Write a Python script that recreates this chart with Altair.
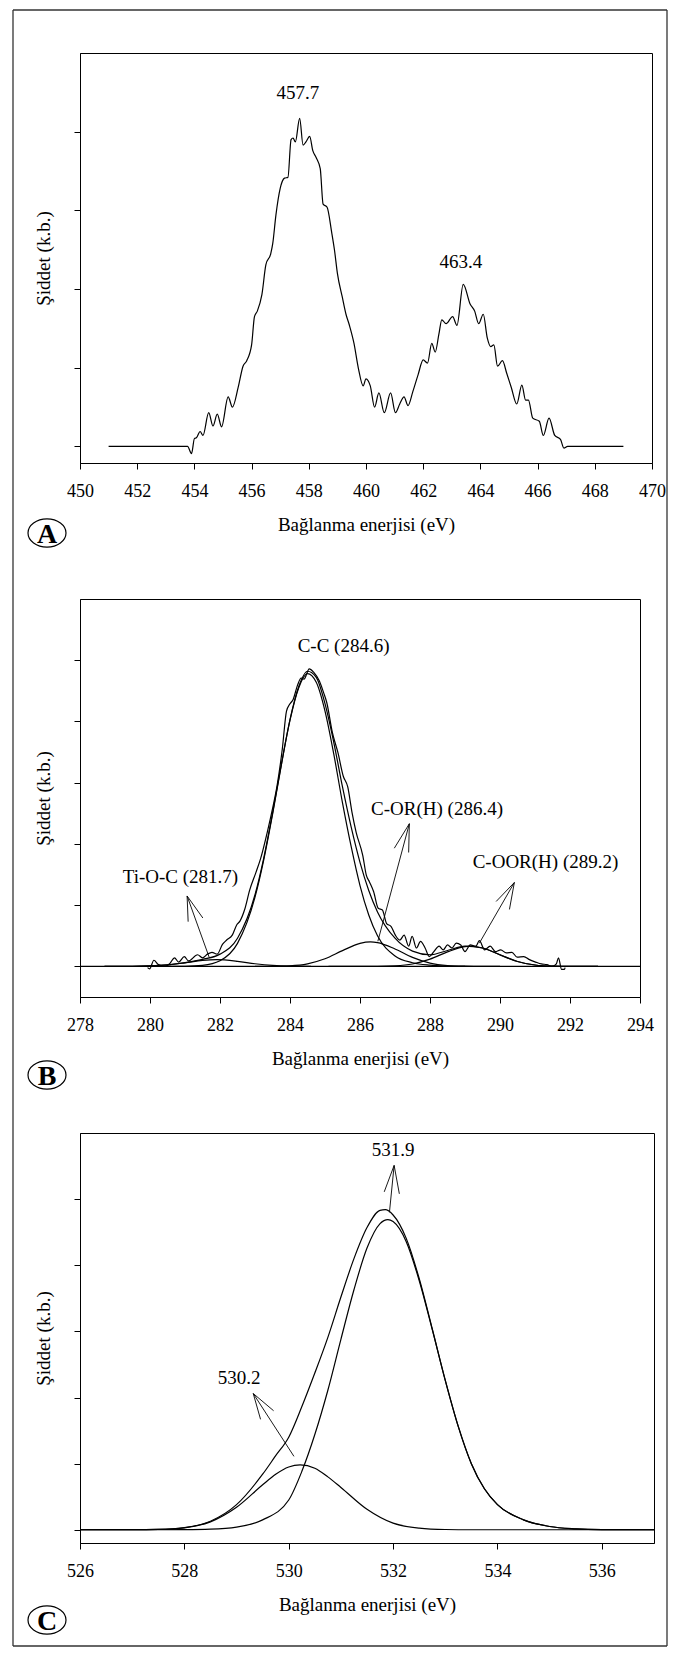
import altair as alt
import pandas as pd

FONT = "'Liberation Serif', 'Times New Roman', Times, 'DejaVu Serif', serif"
X_TITLE = "Bağlanma enerjisi (eV)"
Y_TITLE = "Şiddet (k.b.)"
FRAME_COLOR = "#333333"
ELLIPSE = "M-1,0A1,0.74,0,1,1,1,0A1,0.74,0,1,1,-1,0Z"

# ---------------- Panel A (Ti 2p) ----------------
a_energy = [451.0, 453.76, 453.9, 454.0, 454.07, 454.2, 454.3, 454.5, 454.65, 454.8,
            454.95, 455.18, 455.33, 455.53, 455.7, 455.83, 456.0, 456.1, 456.2, 456.36,
            456.5, 456.67, 456.74, 456.85, 457.0, 457.15, 457.27, 457.38, 457.45, 457.53,
            457.68, 457.8, 457.9, 458.03, 458.14, 458.26, 458.4, 458.5, 458.64, 458.8,
            458.9, 459.0, 459.17, 459.3, 459.42, 459.58, 459.73, 459.9, 460.0, 460.15,
            460.3, 460.45, 460.64, 460.86, 461.03, 461.18, 461.33, 461.47, 461.64, 461.82,
            462.0, 462.15, 462.3, 462.42, 462.55, 462.65, 462.8, 463.03, 463.18, 463.4,
            463.64, 463.8, 463.94, 464.1, 464.24, 464.36, 464.47, 464.6, 464.77, 464.92,
            465.08, 465.27, 465.45, 465.58, 465.68, 465.83, 466.06, 466.2, 466.4, 466.6,
            466.8, 466.92, 467.05, 469.0]
a_signal = [0, 0, -0.09, 0.1, 0.11, 0.19, 0.14, 0.43, 0.26, 0.41,
            0.25, 0.63, 0.5, 0.75, 1.02, 1.09, 1.29, 1.65, 1.72, 1.93,
            2.31, 2.45, 2.58, 2.94, 3.28, 3.41, 3.42, 3.9, 3.92, 3.87,
            4.17, 3.83, 3.87, 3.94, 3.76, 3.67, 3.53, 3.08, 3.04, 2.72,
            2.49, 2.2, 1.9, 1.68, 1.54, 1.31, 1.0, 0.77, 0.86, 0.77,
            0.5, 0.68, 0.43, 0.68, 0.43, 0.54, 0.63, 0.52, 0.7, 0.91,
            1.1, 1.06, 1.31, 1.2, 1.43, 1.61, 1.56, 1.65, 1.54, 2.06,
            1.81, 1.72, 1.56, 1.68, 1.38, 1.27, 1.29, 1.02, 1.09, 0.93,
            0.75, 0.54, 0.78, 0.59, 0.59, 0.36, 0.32, 0.14, 0.36, 0.14,
            0.09, -0.02, 0, 0]
a_x_domain = [450, 470]
a_x_ticks = [450, 452, 454, 456, 458, 460, 462, 464, 466, 468, 470]
a_y_domain = [-0.21, 5]
a_y_ticks = [0, 1, 2, 3, 4]
a_labels = ["457.7", "463.4"]
a_label_e = [457.62, 463.32]
a_label_v = [4.49, 2.34]

# ---------------- Panel B (C 1s) ----------------
b_raw_e = [279.93, 279.99, 280.11, 280.24, 280.42, 280.57, 280.7, 280.82, 280.98, 281.1,
           281.36, 281.5, 281.64, 281.77, 281.92, 282.07, 282.19, 282.35, 282.48, 282.57,
           282.7, 282.85, 283.03, 283.16, 283.35, 283.51, 283.63, 283.78, 283.9, 283.99,
           284.09, 284.22, 284.32, 284.4, 284.55, 284.68, 284.84, 284.96, 285.05, 285.21,
           285.37, 285.52, 285.65, 285.77, 285.89, 286.08, 286.18, 286.27, 286.39, 286.52,
           286.64, 286.76, 286.89, 287.01, 287.14, 287.26, 287.39, 287.49, 287.61, 287.73,
           287.86, 287.98, 288.11, 288.26, 288.38, 288.5, 288.63, 288.75, 288.88, 289.0,
           289.15, 289.31, 289.41, 289.56, 289.72, 289.87, 290.02, 290.18, 290.34, 290.49,
           290.68, 290.84, 291.02, 291.18, 291.34, 291.49, 291.61, 291.67, 291.76, 291.84,
           291.86]
b_raw_v = [-0.02, -0.04, 0.1, 0.03, 0, 0.05, 0.14, 0.07, 0.16, 0.09,
           0.19, 0.14, 0.2, 0.23, 0.2, 0.36, 0.43, 0.51, 0.68, 0.74,
           0.92, 1.25, 1.54, 1.76, 2.19, 2.6, 2.95, 3.55, 4.17, 4.28,
           4.36, 4.6, 4.71, 4.69, 4.86, 4.8, 4.66, 4.47, 4.31, 3.82,
           3.49, 3.11, 2.93, 2.52, 2.19, 1.81, 1.49, 1.38, 1.22, 0.95,
           0.92, 0.7, 0.65, 0.51, 0.43, 0.51, 0.33, 0.49, 0.3, 0.41,
           0.3, 0.16, 0.24, 0.33, 0.27, 0.35, 0.3, 0.38, 0.35, 0.24,
           0.35, 0.33, 0.42, 0.27, 0.33, 0.24, 0.27, 0.22, 0.23, 0.15,
           0.16, 0.11, 0.07, 0.04, 0.03, 0, 0.04, 0.14, -0.05, -0.05,
           -0.02]
b_env_e = [278.7, 279.5, 280, 280.5, 281, 281.5, 282, 282.5, 283, 283.25,
           283.5, 283.75, 284, 284.25, 284.5, 284.75, 285, 285.25, 285.5, 285.75,
           286, 286.25, 286.5, 287, 287.5, 288, 288.5, 289, 289.5, 290,
           290.5, 291, 291.5, 292, 292.8]
b_env_v = [0, 0.001, 0.007, 0.024, 0.06, 0.114, 0.20, 0.46, 1.17, 1.77,
           2.50, 3.29, 4.03, 4.57, 4.82, 4.72, 4.29, 3.66, 2.93, 2.27,
           1.70, 1.24, 0.89, 0.46, 0.25, 0.19, 0.26, 0.33, 0.30, 0.19,
           0.08, 0.023, 0.004, 0, 0]
b_cc_e = [280.5, 281, 281.5, 282, 282.5, 283, 283.25, 283.5, 283.75, 284,
          284.25, 284.5, 284.75, 285, 285.25, 285.5, 285.75, 286, 286.25, 286.5,
          287, 287.5, 288, 288.5, 289]
b_cc_v = [0, 0.002, 0.017, 0.092, 0.376, 1.13, 1.74, 2.48, 3.28, 4.02,
          4.55, 4.78, 4.64, 4.17, 3.47, 2.67, 1.95, 1.32, 0.84, 0.5,
          0.17, 0.06, 0.02, 0.005, 0]
b_cor_e = [283, 283.5, 284, 284.5, 285, 285.5, 286, 286.3, 286.5, 287,
           287.5, 288, 288.5, 289, 289.5, 290]
b_cor_v = [0, 0.002, 0.01, 0.042, 0.124, 0.257, 0.376, 0.40, 0.389, 0.285,
           0.148, 0.054, 0.014, 0.003, 0, 0]
b_coor_e = [285.1, 286.5, 287, 287.5, 288, 288.5, 289, 289.15, 289.5, 290,
            290.5, 291, 291.5, 292, 292.8]
b_coor_v = [0, 0.001, 0.009, 0.039, 0.118, 0.237, 0.324, 0.33, 0.30, 0.188,
            0.079, 0.023, 0.004, 0, 0]
b_tioc_e = [278.7, 279.5, 280, 280.5, 281, 281.5, 281.9, 282.5, 283, 283.5, 284, 284.6]
b_tioc_v = [0, 0.001, 0.007, 0.024, 0.058, 0.097, 0.11, 0.083, 0.043, 0.015, 0.003, 0]
b_x_domain = [278, 294]
b_x_ticks = [278, 280, 282, 284, 286, 288, 290, 292, 294]
b_y_domain = [-0.5, 6]
b_y_ticks = [0, 1, 2, 3, 4, 5]
b_labels = ["C-C (284.6)", "Ti-O-C (281.7)", "C-OR(H) (286.4)", "C-OOR(H) (289.2)"]
b_label_e = [285.53, 280.87, 288.20, 291.30]
b_label_v = [5.24, 1.46, 2.57, 1.70]
# arrow segments: start (e, v) -> end (e2, v2)
b_arrow_e = [281.69, 281.06, 281.06, 286.51, 287.41, 287.41, 289.41, 290.41, 290.41]
b_arrow_v = [0.15, 1.15, 1.15, 0.41, 2.33, 2.33, 0.38, 1.37, 1.37]
b_arrow_e2 = [281.06, 281.09, 281.51, 287.41, 286.98, 287.39, 290.41, 289.89, 290.27]
b_arrow_v2 = [1.15, 0.73, 0.79, 2.33, 1.93, 1.86, 1.37, 1.06, 0.93]

# ---------------- Panel C (O 1s) ----------------
c_env_e = [526, 527, 527.5, 528, 528.5, 529, 529.5, 529.75, 530, 530.25,
           530.5, 530.75, 531, 531.25, 531.5, 531.75, 531.85, 532, 532.25, 532.5,
           532.75, 533, 533.25, 533.5, 533.75, 534, 534.5, 535, 535.5, 536, 537]
c_env_v = [0, 0.001, 0.006, 0.033, 0.13, 0.38, 0.84, 1.12, 1.40, 1.86,
           2.37, 2.91, 3.52, 4.10, 4.57, 4.83, 4.84, 4.76, 4.41, 3.80,
           3.04, 2.26, 1.56, 1.00, 0.62, 0.38, 0.15, 0.05, 0.015, 0.003, 0]
c_main_e = [526, 527, 528, 528.5, 529, 529.5, 530, 530.25, 530.5, 530.75,
            531, 531.25, 531.5, 531.75, 531.9, 532, 532.25, 532.5, 532.75, 533,
            533.25, 533.5, 533.75, 534, 534.5, 535, 535.5, 536, 537]
c_main_v = [0, 0, 0.003, 0.01, 0.04, 0.15, 0.45, 0.88, 1.44, 2.11,
            2.88, 3.63, 4.26, 4.63, 4.69, 4.66, 4.36, 3.77, 3.03, 2.26,
            1.56, 1.00, 0.62, 0.38, 0.15, 0.05, 0.015, 0.003, 0]
c_small_e = [526, 527, 527.5, 528, 528.5, 529, 529.5, 529.75, 530, 530.22,
             530.5, 530.75, 531, 531.5, 532, 532.5, 533, 533.5, 537]
c_small_v = [0, 0.001, 0.005, 0.03, 0.12, 0.34, 0.68, 0.84, 0.95, 0.98,
             0.93, 0.80, 0.64, 0.31, 0.10, 0.025, 0.004, 0, 0]
c_x_domain = [526, 537]
c_x_ticks = [526, 528, 530, 532, 534, 536]
c_y_domain = [-0.2, 6]
c_y_ticks = [0, 1, 2, 3, 4, 5]
c_labels = ["531.9", "530.2"]
c_label_e = [532.0, 529.05]
c_label_v = [5.75, 2.30]
c_arrow_e = [531.93, 532.02, 532.02, 530.10, 529.32, 529.32]
c_arrow_v = [4.80, 5.51, 5.51, 1.11, 2.06, 2.06]
c_arrow_e2 = [532.02, 531.83, 532.12, 529.32, 529.46, 529.71]
c_arrow_v2 = [5.51, 5.11, 5.08, 2.06, 1.67, 1.80]


# ---------------- helpers ----------------
def series_df(items):
    rows = []
    for name, es, vs in items:
        assert len(es) == len(vs), name
        rows += [{"e": e, "v": v, "s": name} for e, v in zip(es, vs)]
    return pd.DataFrame(rows)


def xq(field, dom, ticks):
    return alt.X(f"{field}:Q", scale=alt.Scale(domain=dom, nice=False, zero=False),
                 axis=alt.Axis(values=ticks, format="d", title=X_TITLE))


def yq(field, dom, ticks, h):
    return alt.Y(f"{field}:Q", scale=alt.Scale(domain=dom, nice=False, zero=False),
                 axis=alt.Axis(values=ticks, labels=False, title=Y_TITLE,
                               titleX=-37, titleY=h / 2, titleAngle=270,
                               titleAlign="center", titleBaseline="middle"))


ONE = pd.DataFrame({"k": [0]})


def vrule(x, y1, y2):
    return alt.Chart(ONE).mark_rule(color=FRAME_COLOR, strokeWidth=1.3).encode(
        x=alt.value(x), y=alt.value(y1), y2=alt.value(y2))


def hrule(y, x1, x2):
    return alt.Chart(ONE).mark_rule(color=FRAME_COLOR, strokeWidth=1.3).encode(
        x=alt.value(x1), x2=alt.value(x2), y=alt.value(y))


def panel(series, labels, arrows, xdom, xticks, ydom, yticks, w, h, letter,
          letter_y, frame_top, frame_bottom, top_line=False, bottom_line=False,
          zero_line=False):
    X = lambda f: xq(f, xdom, xticks)
    Y = lambda f: yq(f, ydom, yticks, h)
    layers = []
    if zero_line:
        layers.append(alt.Chart(pd.DataFrame({"v": [0]})).mark_rule(
            color="black", strokeWidth=1.2).encode(y=Y("v")))
    layers.append(alt.Chart(series).mark_line(
        color="black", strokeWidth=1.2, interpolate="monotone").encode(
        x=X("e"), y=Y("v"), detail="s:N"))
    if arrows is not None:
        layers.append(alt.Chart(arrows).mark_rule(color="black", strokeWidth=0.9).encode(
            x=X("e"), y=Y("v"), x2=alt.X2("e2"), y2=alt.Y2("v2")))
    layers.append(alt.Chart(labels).mark_text(
        font=FONT, fontSize=19, color="black", align="center", baseline="middle").encode(
        x=X("e"), y=Y("v"), text="label:N"))
    # panel letter in an ellipse
    layers.append(alt.Chart(ONE).mark_point(
        shape=ELLIPSE, size=1444, filled=False, opacity=1, stroke="black",
        strokeWidth=1.2).encode(x=alt.value(-33), y=alt.value(letter_y)))
    layers.append(alt.Chart(ONE).mark_text(
        text=letter, font=FONT, fontSize=28, fontWeight="bold", color="black",
        align="center", baseline="alphabetic").encode(
        x=alt.value(-33), y=alt.value(letter_y + 10)))
    # outer figure frame segments
    layers.append(vrule(-67, frame_top, frame_bottom))
    layers.append(vrule(587, frame_top, frame_bottom))
    if top_line:
        layers.append(hrule(frame_top, -67, 587))
    if bottom_line:
        layers.append(hrule(frame_bottom, -67, 587))
    return alt.layer(*layers).properties(width=w, height=h)


A_W, A_H = 572, 410
B_W, B_H = 560, 398
C_W, C_H = 574, 410

a_series = series_df([("raw", a_energy, a_signal)])
a_lab = pd.DataFrame({"e": a_label_e, "v": a_label_v, "label": a_labels})

b_series = series_df([("raw", b_raw_e, b_raw_v), ("env", b_env_e, b_env_v),
                      ("cc", b_cc_e, b_cc_v), ("cor", b_cor_e, b_cor_v),
                      ("coor", b_coor_e, b_coor_v), ("tioc", b_tioc_e, b_tioc_v)])
b_lab = pd.DataFrame({"e": b_label_e, "v": b_label_v, "label": b_labels})
b_arr = pd.DataFrame({"e": b_arrow_e, "v": b_arrow_v, "e2": b_arrow_e2, "v2": b_arrow_v2})

c_series = series_df([("env", c_env_e, c_env_v), ("main", c_main_e, c_main_v),
                      ("small", c_small_e, c_small_v)])
c_lab = pd.DataFrame({"e": c_label_e, "v": c_label_v, "label": c_labels})
c_arr = pd.DataFrame({"e": c_arrow_e, "v": c_arrow_v, "e2": c_arrow_e2, "v2": c_arrow_v2})

pA = panel(a_series, a_lab, None, a_x_domain, a_x_ticks, a_y_domain, a_y_ticks,
           A_W, A_H, "A", 480, -43, 508, top_line=True)
pB = panel(b_series, b_lab, b_arr, b_x_domain, b_x_ticks, b_y_domain, b_y_ticks,
           B_W, B_H, "B", 476, -38, 502, zero_line=True)
pC = panel(c_series, c_lab, c_arr, c_x_domain, c_x_ticks, c_y_domain, c_y_ticks,
           C_W, C_H, "C", 487, -32, 513, bottom_line=True)

chart = alt.vconcat(pA, pB, pC, spacing=136, bounds="flush").properties(
    padding={"left": 3, "top": 0, "right": 0, "bottom": 0}
).configure(background="white").configure_view(
    stroke="black", strokeWidth=1
).configure_axis(
    labelFont=FONT, labelFontSize=18, labelColor="black",
    titleFont=FONT, titleFontSize=19, titleFontWeight="normal", titleColor="black",
    domainColor="black", domainWidth=1, tickColor="black", tickSize=6, tickWidth=1,
    grid=False, labelFlush=False, labelPadding=13, titlePadding=15
)

chart.save("out.html", embed_options={"renderer": "svg", "actions": False})
